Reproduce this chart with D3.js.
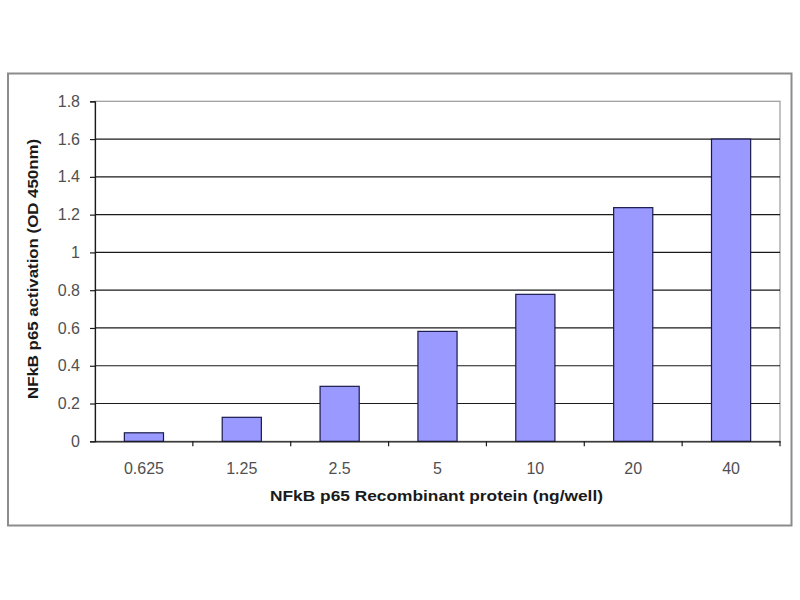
<!DOCTYPE html>
<html>
<head>
<meta charset="utf-8">
<script src="https://cdn.jsdelivr.net/npm/d3@7"></script>
<style>
  body { margin: 0; background: #fff; }
  svg { display: block; }
  text { font-family: "Liberation Sans", Arial, sans-serif; }
</style>
</head>
<body>
<svg id="chart" width="800" height="600"></svg>
<script>
const categories = ["0.625", "1.25", "2.5", "5", "10", "20", "40"];
const values = [0.045, 0.127, 0.291, 0.582, 0.778, 1.237, 1.60];
const yTicks = [0, 0.2, 0.4, 0.6, 0.8, 1, 1.2, 1.4, 1.6, 1.8];
const xTitle = "NFkB p65 Recombinant protein (ng/well)";
const yTitle = "NFkB p65 activation (OD 450nm)";

(function () {
const svg = d3.select("#chart");
const pLeft = 95, pRight = 780, pTop = 101.3, pBottom = 441.3;

// outer frame
svg.append("rect")
  .attr("x", 8).attr("y", 73.5).attr("width", 783.5).attr("height", 452)
  .attr("fill", "#fff").attr("stroke", "#8c8c8c").attr("stroke-width", 2);

const band = d3.scaleBand().domain(categories).range([pLeft, pRight]);
const y = d3.scaleLinear().domain([0, 1.8]).range([pBottom, pTop]);

// plot area border
svg.append("rect")
  .attr("x", pLeft).attr("y", pTop).attr("width", pRight - pLeft).attr("height", pBottom - pTop)
  .attr("fill", "none").attr("stroke", "#9a9a9a").attr("stroke-width", 1.2);

// gridlines
svg.append("g").selectAll("line")
  .data(yTicks.filter(d => d > 0 && d < 1.8))
  .join("line")
  .attr("x1", pLeft).attr("x2", pRight)
  .attr("y1", d => y(d)).attr("y2", d => y(d))
  .attr("stroke", "#1a1a1a").attr("stroke-width", 1.2);

// bars
svg.append("g").selectAll("rect")
  .data(values)
  .join("rect")
  .attr("x", (d, i) => band(categories[i]) + band.bandwidth() * 0.3)
  .attr("width", band.bandwidth() * 0.4)
  .attr("y", d => y(d))
  .attr("height", d => y(0) - y(d))
  .attr("fill", "#9999ff")
  .attr("stroke", "#1a1a4a").attr("stroke-width", 1.2);

// y axis
const yAxis = d3.axisLeft(y).tickValues(yTicks).tickSize(5).tickPadding(10)
  .tickFormat(d => String(+d.toFixed(1)));
const gy = svg.append("g").attr("transform", `translate(${pLeft},0)`).call(yAxis);
gy.select(".domain").attr("stroke", "#1a1a1a").attr("stroke-width", 1.2);
gy.selectAll(".tick line").attr("stroke", "#1a1a1a").attr("stroke-width", 1.2);
gy.selectAll(".tick text").attr("font-size", 16).attr("fill", "#505050")
  .attr("font-family", "Liberation Sans, Arial, sans-serif");

// x axis
const xAxis = d3.axisBottom(band).tickSize(0).tickPadding(21);
const gx = svg.append("g").attr("transform", `translate(0,${pBottom})`).call(xAxis);
gx.select(".domain").attr("stroke", "#1a1a1a").attr("stroke-width", 1.2);
gx.selectAll(".tick text").attr("font-size", 16).attr("fill", "#505050")
  .attr("font-family", "Liberation Sans, Arial, sans-serif");
// category separator ticks
gx.append("g").selectAll("line")
  .data(categories.slice(1).concat(["_end"]))
  .join("line")
  .attr("x1", d => d === "_end" ? pRight : band(d))
  .attr("x2", d => d === "_end" ? pRight : band(d))
  .attr("y1", 0).attr("y2", 5)
  .attr("stroke", "#1a1a1a").attr("stroke-width", 1.2);

// titles
svg.append("text")
  .attr("x", 436.5).attr("y", 501)
  .attr("text-anchor", "middle")
  .attr("font-size", 15.5).attr("font-weight", "bold").attr("fill", "#1a1a1a")
  .attr("textLength", 333).attr("lengthAdjust", "spacingAndGlyphs")
  .text(xTitle);

svg.append("text")
  .attr("transform", `translate(38,269) rotate(-90)`)
  .attr("text-anchor", "middle")
  .attr("font-size", 15.5).attr("font-weight", "bold").attr("fill", "#1a1a1a")
  .attr("textLength", 260).attr("lengthAdjust", "spacingAndGlyphs")
  .text(yTitle);
})();
</script>
</body>
</html>
